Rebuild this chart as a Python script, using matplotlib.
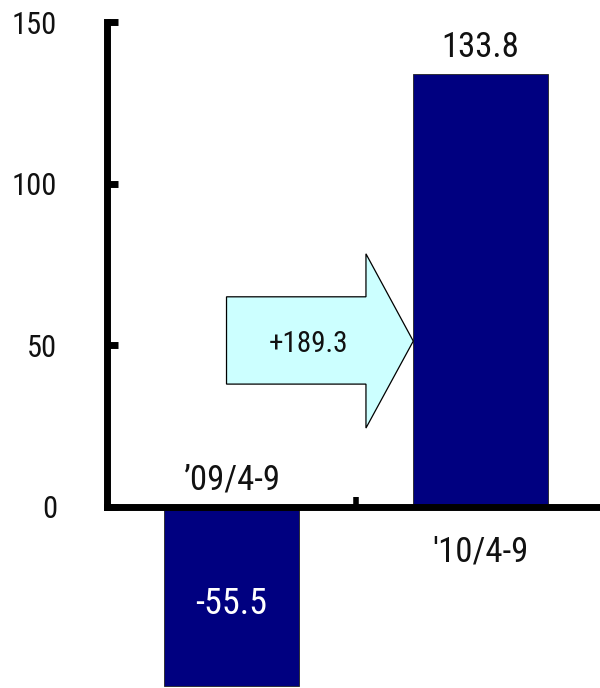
import matplotlib
matplotlib.use("Agg")
import matplotlib.pyplot as plt
from matplotlib.patches import Polygon

plt.rcParams['font.family'] = ['Roboto Condensed', 'Liberation Sans Narrow',
                               'Roboto', 'DejaVu Sans']

# Data
periods = ["\u201909/4-9", "'10/4-9"]
values = [-55.5, 133.8]
yticks = [0, 50, 100, 150]

bar_color = "#000080"
arrow_fill = "#CCFFFF"

fig = plt.figure(figsize=(6.0, 6.88), dpi=100)
ax = fig.add_axes([107 / 600, 0.0, 498 / 600, 1 - 22 / 688])

x = list(range(len(values)))
bar_w = 0.54
bars = ax.bar(x, values, width=bar_w, color=bar_color, edgecolor="#222222",
              linewidth=0.6, zorder=2)

ax.set_xlim(-0.5, len(values) - 0.5)
ax.set_ylim(-56, 150)

# Spines: left axis from 0 to the top, baseline at zero
for s in ("top", "right"):
    ax.spines[s].set_visible(False)
ax.spines["left"].set_bounds(0, 150)
ax.spines["left"].set_linewidth(5)
ax.spines["bottom"].set_position(("data", 0))
ax.spines["bottom"].set_linewidth(5)
ax.spines["left"].set_zorder(3)
ax.spines["bottom"].set_zorder(3)

ax.set_yticks(yticks)
ax.set_yticklabels([str(t) for t in yticks], fontsize=22, fontstretch="condensed")
ax.tick_params(axis="y", direction="in", length=8, width=5, pad=36,
               labelcolor="#111111")

ax.set_xticks([])
ax.set_xticks([i + 0.5 for i in x], minor=True)
ax.tick_params(axis="x", which="minor", direction="in", length=7, width=4,
               labelbottom=False)

txt = dict(fontstretch="condensed")

# Category labels sit on the opposite side of the baseline from the bar
for xi, v, lab in zip(x, values, periods):
    if v < 0:
        ax.annotate(lab, (xi, 0), xytext=(0, 17), textcoords="offset pixels",
                    ha="center", va="baseline", fontsize=25, color="#111111", **txt)
    else:
        ax.annotate(lab, (xi, 0), xytext=(0, -55), textcoords="offset pixels",
                    ha="center", va="baseline", fontsize=25, color="#111111", **txt)

# Value labels
for xi, v in zip(x, values):
    if v < 0:
        ax.annotate(f"{v:.1f}", (xi, v), xytext=(0, 72), textcoords="offset pixels",
                    ha="center", va="baseline", fontsize=26, color="white",
                    zorder=4, **txt)
    else:
        ax.annotate(f"{v:.1f}", (xi, v), xytext=(0, 17), textcoords="offset pixels",
                    ha="center", va="baseline", fontsize=25, color="#111111", **txt)

# Block arrow showing the change between periods
tip_x = x[1] - bar_w / 2
body_l, body_r = -0.02, 0.54
body_lo, body_hi = 38.0, 65.0
head_lo, head_hi = 24.4, 78.3
tip_y = 51.3
arrow = Polygon([(body_l, body_lo), (body_r, body_lo), (body_r, head_lo),
                 (tip_x, tip_y), (body_r, head_hi), (body_r, body_hi),
                 (body_l, body_hi)],
                closed=True, facecolor=arrow_fill, edgecolor="black",
                linewidth=0.9, zorder=3)
ax.add_patch(arrow)
change = values[1] - values[0]
ax.text(0.31, tip_y - 1.0, f"+{change:.1f}", ha="center", va="center",
        fontsize=21, color="#111111", zorder=4, **txt)

fig.savefig("out.png", dpi=100)
